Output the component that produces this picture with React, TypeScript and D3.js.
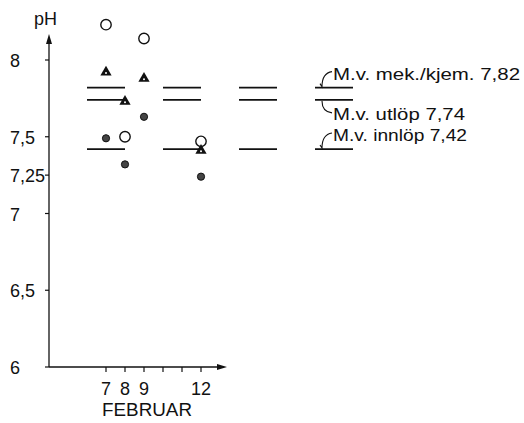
import React from "react";
import * as d3 from "d3";

const days = [7, 8, 9, 12];
const mekKjem = [8.23, 7.5, 8.14, 7.47];
const utlop = [7.92, 7.73, 7.88, 7.41];
const innlop = [7.49, 7.32, 7.63, 7.24];

const yTicks = [6, 6.5, 7, 7.25, 7.5, 8];
const yTickLabels = ["6", "6,5", "7", "7,25", "7,5", "8"];
const xTicks = [7, 8, 9, 10, 11, 12];
const xTickLabels = ["7", "8", "9", "", "", "12"];

const meanValues = [7.82, 7.74, 7.42];
const meanLabels = ["M.v. mek./kjem. 7,82", "M.v. utlöp 7,74", "M.v. innlöp 7,42"];
const meanSegments: [number, number][] = [
  [6, 8],
  [10, 12],
  [14, 16],
  [18, 20],
];

const W = 524;
const H = 423;
const FONT = "'Liberation Sans', Arial, sans-serif";
const INK = "#111";

export default function App() {
  const x = d3.scaleLinear().domain([7, 12]).range([106, 201]);
  const y = d3.scaleLinear().domain([6, 8]).range([367, 60]);
  const axisX = x(4);
  const axisY = y(6);
  const tri = d3.symbol().type(d3.symbolTriangle).size(55)();

  const lastSeg = meanSegments[meanSegments.length - 1];
  const labelX = x(lastSeg[0]) + 18;
  const hookX = x(lastSeg[0]) + 7;
  const labelLen = [187, 132, 134];
  const labelDy = [-8, 20, -8];

  return (
    <svg
      width={W}
      height={H}
      style={{ position: "absolute", left: 0, top: 0, background: "#fff" }}
      fontFamily={FONT}
    >
      {/* y axis */}
      <line x1={axisX} y1={axisY} x2={axisX} y2={40} stroke={INK} strokeWidth={1.3} />
      <path d={`M${axisX},34 L${axisX - 3},44 L${axisX + 3},44 Z`} fill={INK} />
      {yTicks.map((t, i) => (
        <g key={"yt" + i}>
          <line x1={axisX - 4} x2={axisX} y1={y(t)} y2={y(t)} stroke={INK} strokeWidth={1.2} />
          <text x={10} y={y(t) + 7} fontSize={18} fill={INK}>
            {yTickLabels[i]}
          </text>
        </g>
      ))}
      <text x={34} y={25} fontSize={18} fill={INK}>
        pH
      </text>

      {/* x axis */}
      <line x1={axisX} y1={axisY} x2={222} y2={axisY} stroke={INK} strokeWidth={1.5} />
      <path d={`M227,${axisY} L217,${axisY - 3} L217,${axisY + 3} Z`} fill={INK} />
      {xTicks.map((t, i) => (
        <g key={"xt" + i}>
          <line x1={x(t)} x2={x(t)} y1={axisY} y2={axisY + 5} stroke={INK} strokeWidth={1.2} />
          <text x={x(t)} y={axisY + 28} fontSize={18} fill={INK} textAnchor="middle">
            {xTickLabels[i]}
          </text>
        </g>
      ))}
      <text x={147} y={axisY + 49} fontSize={18} fill={INK} textAnchor="middle" textLength={90} lengthAdjust="spacingAndGlyphs">
        FEBRUAR
      </text>

      {/* mean segments */}
      {meanValues.map((v, i) =>
        meanSegments.map((s, j) => (
          <line
            key={"m" + i + "-" + j}
            x1={x(s[0])}
            x2={x(s[1])}
            y1={y(v)}
            y2={y(v)}
            stroke={INK}
            strokeWidth={1.8}
          />
        ))
      )}

      {/* hooks + labels */}
      {meanValues.map((v, i) => {
        const yy = y(v);
        const up = labelDy[i] < 0;
        const d = up
          ? `M${hookX - 2},${yy - 4} L${hookX},${yy - 1} C${hookX},${yy - 9} ${hookX + 3},${yy - 15} ${hookX + 10},${yy - 16}`
          : `M${hookX},${yy + 1} C${hookX},${yy + 8} ${hookX + 3},${yy + 12} ${hookX + 10},${yy + 13}`;
        return (
          <g key={"lab" + i}>
            <path d={d} fill="none" stroke={INK} strokeWidth={1.1} />
            <text
              x={labelX}
              y={yy + labelDy[i]}
              fontSize={17}
              fill={INK}
              textLength={labelLen[i]}
              lengthAdjust="spacingAndGlyphs"
            >
              {meanLabels[i]}
            </text>
          </g>
        );
      })}

      {/* data markers */}
      {days.map((d, i) => (
        <g key={"pts" + i}>
          <circle cx={x(d)} cy={y(mekKjem[i])} r={5.2} fill="#fff" stroke={INK} strokeWidth={1.4} />
          <g transform={`translate(${x(d)},${y(utlop[i])})`}>
            <path d={tri as string} fill={INK} />
            <circle cx={0} cy={0.8} r={1} fill="#fff" />
          </g>
          <circle cx={x(d)} cy={y(innlop[i])} r={3.6} fill="#444" stroke={INK} strokeWidth={1} />
        </g>
      ))}
    </svg>
  );
}
